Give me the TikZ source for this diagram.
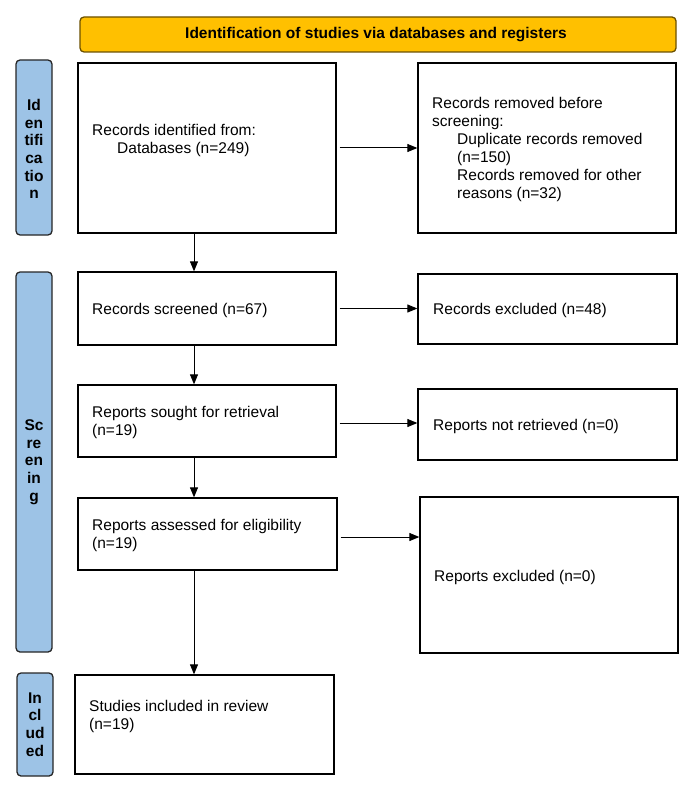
\documentclass[tikz,border=0pt]{standalone}
\usepackage{fontspec}
\setmainfont{Liberation Sans}
\usetikzlibrary{arrows.meta}
\definecolor{hdrfill}{HTML}{FFC000}
\definecolor{hdrline}{HTML}{6B5000}
\definecolor{sidefill}{HTML}{9DC3E6}
\begin{document}
\begin{tikzpicture}[x=1pt,y=-1pt,
  font=\fontsize{15.5}{18}\selectfont,
  box/.style={draw=black, line width=1.3pt, inner sep=0pt},
  side/.style={draw=black!85, fill=sidefill, line width=1.3pt, rounded corners=4pt, inner sep=0pt},
  hdr/.style={draw=hdrline, fill=hdrfill, line width=1.3pt, rounded corners=4pt, inner sep=0pt},
  txt/.style={anchor=west, align=left, inner sep=0pt},
  sidetxt/.style={align=center, inner sep=0pt, font=\fontsize{15.5}{17.7}\selectfont\bfseries},
  arr/.style={-{Triangle[length=10pt,width=8pt]}, line width=1pt}]
\useasboundingbox (0,0) rectangle (691,786);

% header
\node[hdr, minimum width=596pt, minimum height=35pt] (H) at (378,34.5) {};
\node[inner sep=0pt, font=\fontsize{15.5}{18}\selectfont\bfseries] (HT) at (376,34.5) {Identification of studies via databases and registers};

% side bars
\node[side, minimum width=36pt, minimum height=175pt] (SI) at (34,147.5) {};
\node[sidetxt] (SIT) at (34,149) {Id\\en\\tifi\\ca\\tio\\n};
\node[side, minimum width=36pt, minimum height=380pt] (SS) at (34,462) {};
\node[sidetxt] (SST) at (34,462) {Sc\\re\\en\\in\\g};
\node[side, minimum width=36pt, minimum height=103pt] (SN) at (35,724.5) {};
\node[sidetxt] (SNT) at (35,724.5) {In\\cl\\ud\\ed};

% main boxes
\node[box, minimum width=258pt, minimum height=170pt] (B1) at (207,148) {};
\node[box, minimum width=258pt, minimum height=170pt] (R1) at (547,148) {};
\node[box, minimum width=258pt, minimum height=73pt] (B2) at (207,308.5) {};
\node[box, minimum width=259pt, minimum height=70pt] (R2) at (547.5,309) {};
\node[box, minimum width=258pt, minimum height=72pt] (B3) at (207,421) {};
\node[box, minimum width=259pt, minimum height=71pt] (R3) at (547.5,424.5) {};
\node[box, minimum width=259pt, minimum height=72pt] (B4) at (207.5,534) {};
\node[box, minimum width=258pt, minimum height=156pt] (R4) at (549,575) {};
\node[box, minimum width=259pt, minimum height=99pt] (B5) at (204.5,724.5) {};

% texts
\node[txt] (T1) at (92,140) {Records identified from:\\\hspace*{25pt}Databases (n=249)};
\node[txt] (TR1) at (432,149) {Records removed before\\screening:\\\hspace*{25pt}Duplicate records removed\\\hspace*{25pt}(n=150)\\\hspace*{25pt}Records removed for other\\\hspace*{25pt}reasons (n=32)};
\node[txt] (T2) at (92,310) {Records screened (n=67)};
\node[txt] (TR2) at (433,310) {Records excluded (n=48)};
\node[txt] (T3) at (92,422.5) {Reports sought for retrieval\\(n=19)};
\node[txt] (TR3) at (433,426) {Reports not retrieved (n=0)};
\node[txt] (T4) at (92,535.5) {Reports assessed for eligibility\\(n=19)};
\node[txt] (TR4) at (434,577) {Reports excluded (n=0)};
\node[txt] (T5) at (89,716) {Studies included in review\\(n=19)};

% connectors
\coordinate (ax) at (194,0);
\draw[arr] (B1.south -| ax) -- (B2.north -| ax);
\draw[arr] (B2.south -| ax) -- (B3.north -| ax);
\draw[arr] (B3.south -| ax) -- (B4.north -| ax);
\draw[arr] (B4.south -| ax) -- (B5.north -| ax);

\draw[arr, shorten <=3pt] (B1.east) -- (B1.east -| R1.west);
\draw[arr, shorten <=3pt] (B2.east) -- (B2.east -| R2.west);
\draw[arr, shorten <=3pt] ([yshift=-2pt]B3.east) -- ([yshift=-2pt]B3.east -| R3.west);
\draw[arr, shorten <=3pt] ([yshift=-3pt]B4.east) -- ([yshift=-3pt]B4.east -| R4.west);
\end{tikzpicture}
\end{document}
